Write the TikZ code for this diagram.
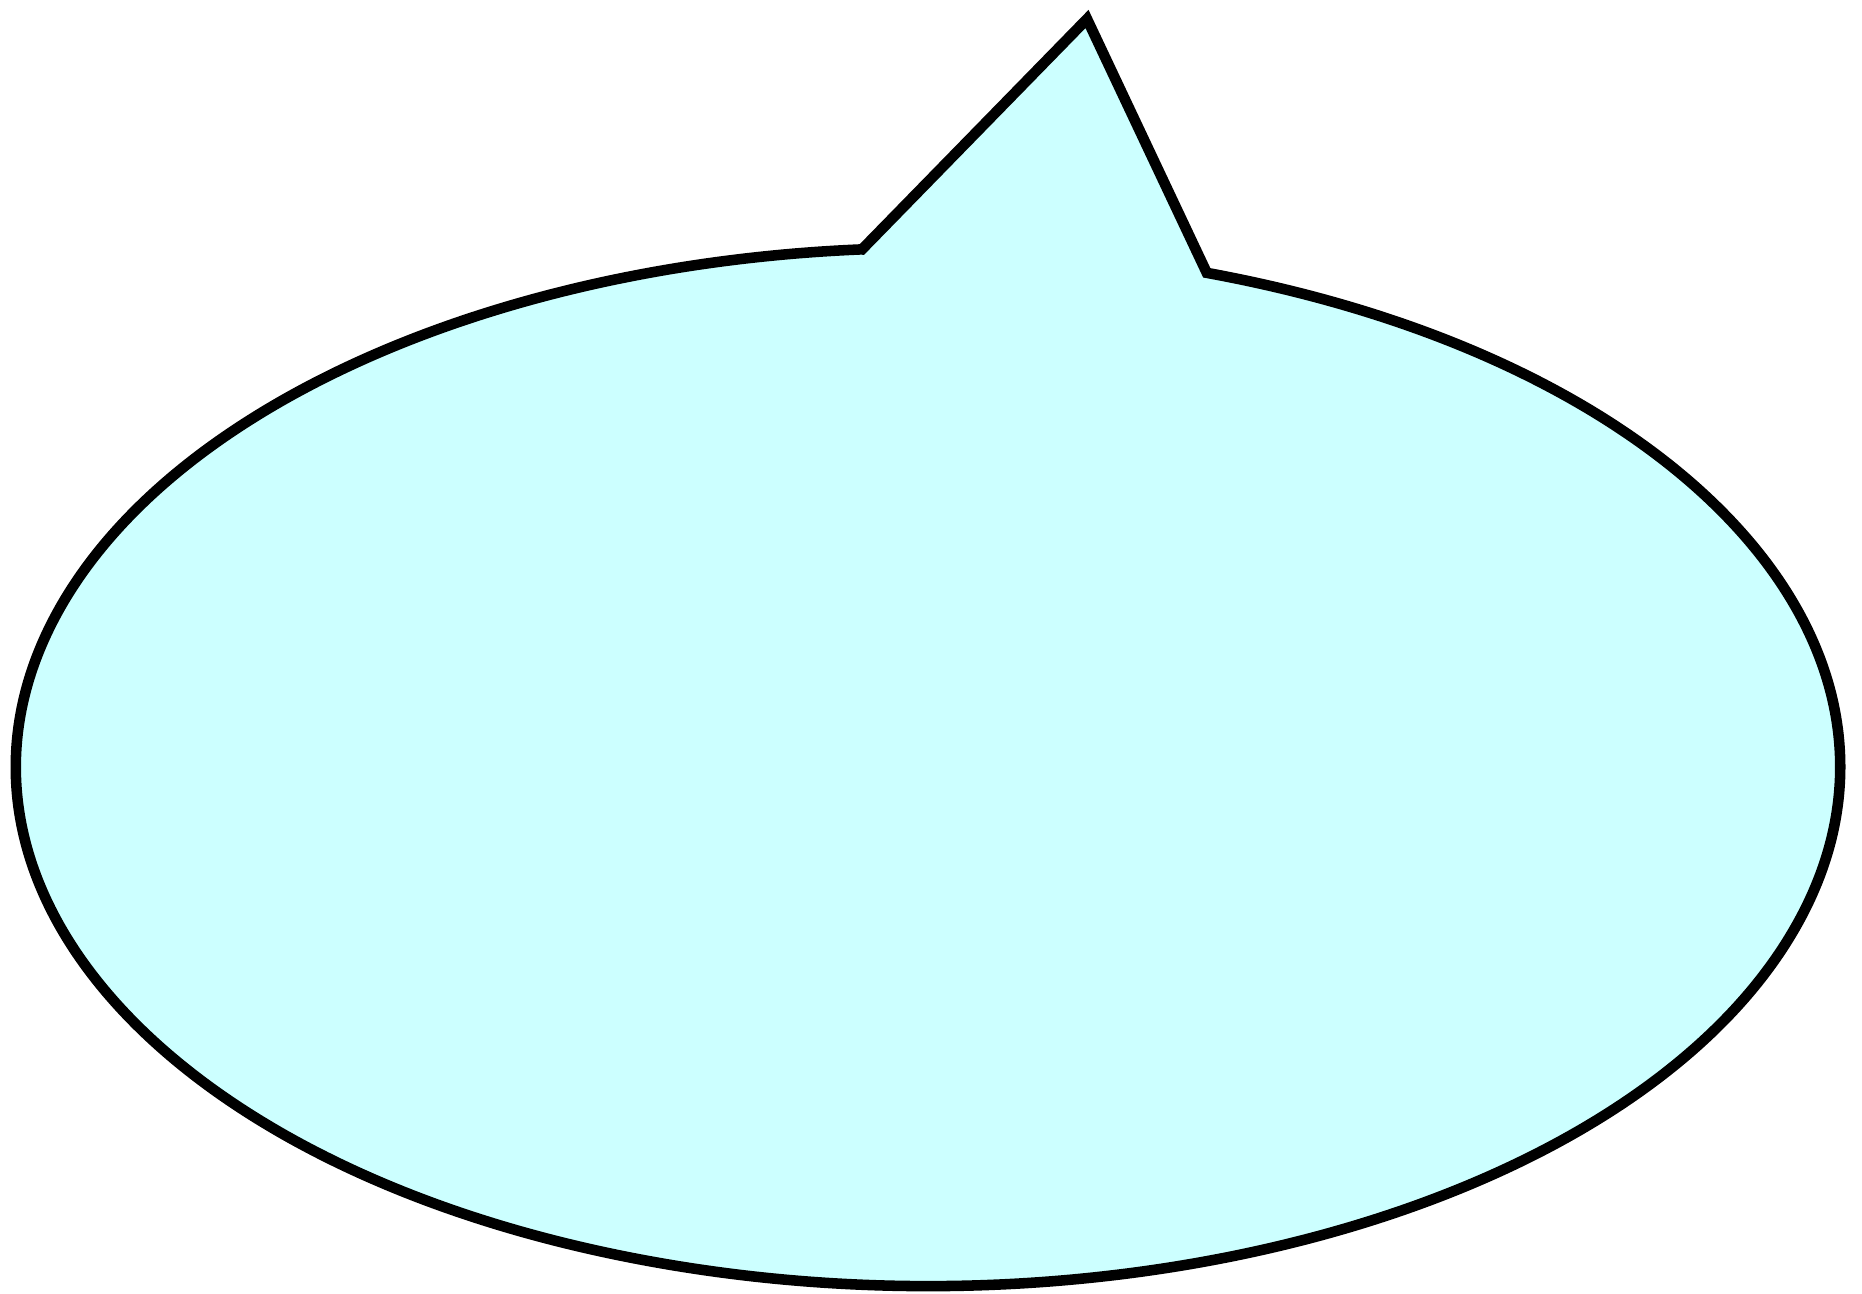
\documentclass[tikz,border=0pt]{standalone}
\usetikzlibrary{calc}
\definecolor{bubblefill}{HTML}{CCFFFF}
\tikzset{bubble/.style={draw=black, fill=bubblefill, line width=3pt, line join=miter}}
\begin{document}
\begin{tikzpicture}
\useasboundingbox (0,0) rectangle (18.62,12.93);
\coordinate (c) at (9.28,5.26);
\coordinate (tip) at (10.87,12.74);
\coordinate (lb) at ($(c)+(94.15:9.12 and 5.19)$);
\coordinate (rb) at ($(c)+(72.2:9.12 and 5.19)$);
\draw[bubble] (lb) -- (tip) -- (rb) arc[start angle=72.2, end angle=-265.85, x radius=9.12, y radius=5.19] -- cycle;
\end{tikzpicture}
\end{document}
